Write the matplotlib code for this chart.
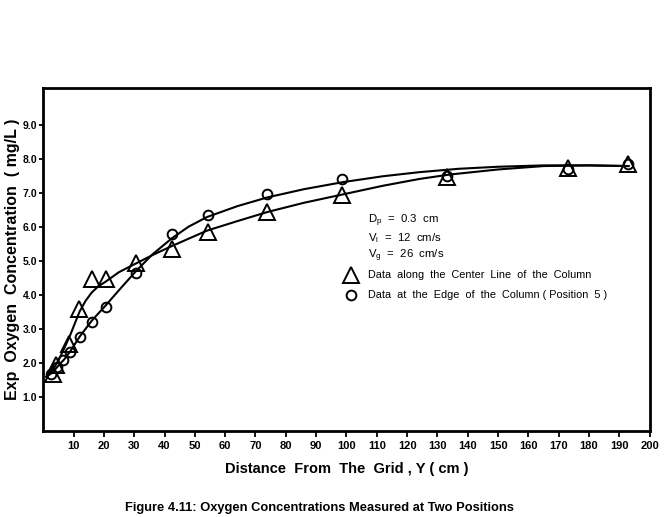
import matplotlib
matplotlib.use("Agg")
import matplotlib.pyplot as plt

plt.rcParams['font.family'] = ['Liberation Sans', 'DejaVu Sans']

# Datos
centro_x = [3.2, 4.2, 8.5, 11.8, 16.0, 20.6, 30.7, 42.5, 54.2, 73.9, 98.4, 133.3, 172.9, 193.0]
centro_y = [1.68, 1.94, 2.56, 3.59, 4.47, 4.47, 4.94, 5.35, 5.85, 6.44, 6.95, 7.47, 7.74, 7.85]

borde_x = [2.6, 4.6, 6.5, 8.8, 12.1, 16.0, 20.6, 30.7, 42.5, 54.2, 73.9, 98.4, 133.3, 172.9, 193.0]
borde_y = [1.68, 1.90, 2.09, 2.32, 2.77, 3.20, 3.65, 4.65, 5.79, 6.35, 6.97, 7.41, 7.50, 7.72, 7.85]

# Curvas trazadas a mano (puntos leídos sobre la línea)
curva_centro_x = [1, 3, 5, 7, 9, 11, 12, 14, 16, 18, 20.6, 25, 30.7, 36, 42.5, 54, 64, 74, 86, 99, 112, 124, 134, 150, 165, 180, 193]
curva_centro_y = [1.60, 1.78, 2.08, 2.45, 2.85, 3.30, 3.52, 3.84, 4.08, 4.25, 4.40, 4.68, 4.94, 5.18, 5.45, 5.90, 6.18, 6.45, 6.72, 6.97, 7.22, 7.42, 7.55, 7.70, 7.80, 7.82, 7.80]

curva_borde_x = [1, 3, 5, 7, 9, 12, 16, 20.6, 25, 30.7, 36, 42.5, 48, 54, 64, 74, 86, 99, 112, 124, 137, 150, 165, 180, 193]
curva_borde_y = [1.60, 1.72, 1.93, 2.12, 2.36, 2.78, 3.25, 3.70, 4.15, 4.72, 5.20, 5.68, 6.02, 6.30, 6.62, 6.88, 7.12, 7.33, 7.50, 7.62, 7.72, 7.78, 7.82, 7.82, 7.80]

x_ticks = list(range(10, 201, 10))
y_ticks = [1.0, 2.0, 3.0, 4.0, 5.0, 6.0, 7.0, 8.0, 9.0]

fig = plt.figure(figsize=(6.65, 5.17), dpi=100)
ax = fig.add_axes([0.065, 0.166, 0.912, 0.664])

ax.plot(curva_centro_x, curva_centro_y, color='black', lw=1.5)
ax.plot(curva_borde_x, curva_borde_y, color='black', lw=1.5)
ax.plot(centro_x, centro_y, linestyle='none', marker='^', markersize=11,
        markerfacecolor='none', markeredgecolor='black', markeredgewidth=1.4)
ax.plot(borde_x, borde_y, linestyle='none', marker='o', markersize=7,
        markerfacecolor='none', markeredgecolor='black', markeredgewidth=1.4)

ax.set_xlim(0, 200)
ax.set_ylim(0, 10.1)
ax.set_xticks(x_ticks)
ax.set_xticklabels([str(t) for t in x_ticks], fontsize=8, fontweight='bold')
ax.set_yticks(y_ticks)
ax.set_yticklabels(['%.1f' % t for t in y_ticks], fontsize=7.5, fontweight='bold')
ax.tick_params(direction='out', length=3, width=1.3, pad=1.5)
ax.tick_params(axis='x', length=4, pad=3)
for s in ax.spines.values():
    s.set_linewidth(2)

ax.set_xlabel('Distance  From  The  Grid , Y ( cm )', fontsize=10.5, fontweight='bold', labelpad=8)
ax.set_ylabel('Exp  Oxygen  Concentration  ( mg/L )', fontsize=11.5, fontweight='bold', va='center')
ax.yaxis.set_label_coords(-0.051, 0.5)

# Leyenda dibujada a mano dentro del gráfico
ax.text(107, 6.2, r'$\mathregular{D_p}$  =  0.3  cm', fontsize=8.2, va='center')
ax.text(107, 5.67, r'$\mathregular{V_l}$  =  12  cm/s', fontsize=8.2, va='center')
ax.text(107, 5.17, r'$\mathregular{V_g}$  =  26  cm/s', fontsize=8.2, va='center')
ax.plot([101.5], [4.6], linestyle='none', marker='^', markersize=11,
        markerfacecolor='none', markeredgecolor='black', markeredgewidth=1.4)
ax.plot([101.5], [4.0], linestyle='none', marker='o', markersize=7,
        markerfacecolor='none', markeredgecolor='black', markeredgewidth=1.4)
ax.text(107, 4.6, 'Data  along  the  Center  Line  of  the  Column', fontsize=7.8, va='center')
ax.text(107, 4.0, 'Data  at  the  Edge  of  the  Column ( Position  5 )', fontsize=7.8, va='center')

fig.text(0.48, 0.017, 'Figure 4.11: Oxygen Concentrations Measured at Two Positions',
         fontsize=9.3, fontweight='bold', ha='center', va='center')

fig.savefig('out.png', dpi=100)
